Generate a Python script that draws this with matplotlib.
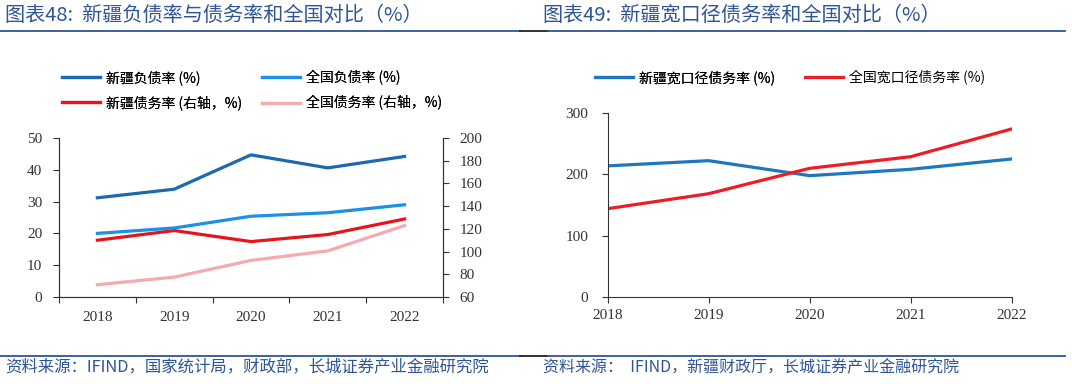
import matplotlib
matplotlib.use('Agg')
import matplotlib.pyplot as plt
from matplotlib.lines import Line2D

plt.rcParams['font.family'] = ['Noto Sans CJK SC', 'DejaVu Sans']

# data
years = ['2018', '2019', '2020', '2021', '2022']
xj_debt_ratio = [31.2, 33.9, 44.7, 40.6, 44.2]       # 新疆负债率, left axis
cn_debt_ratio = [20.0, 21.7, 25.4, 26.5, 29.0]       # 全国负债率, left axis
xj_liab_ratio = [110.0, 118.5, 108.8, 115.0, 128.7]  # 新疆债务率, right axis
cn_liab_ratio = [70.8, 77.5, 92.2, 100.6, 122.9]     # 全国债务率, right axis

xj_broad = [214, 222.5, 198, 208.4, 225.3]   # 新疆宽口径债务率
cn_broad = [144, 168.5, 210, 229, 274.4]     # 全国宽口径债务率

W, H = 1072, 384
fig = plt.figure(figsize=(W / 100, H / 100), dpi=100)


def px(x0, y0, x1, y1):
    # pixel box (top-left origin) -> figure fraction rect
    return [x0 / W, 1 - y1 / H, (x1 - x0) / W, (y1 - y0) / H]


title_c = '#2E5597'
num_font = 'Liberation Serif'
axis_c = '#333333'

# headers and rules
fig.text(5 / W, 1 - 15 / H, '图表48:  新疆负债率与债务率和全国对比（%）',
         fontsize=14.5, color=title_c, va='center', ha='left')
fig.text(543 / W, 1 - 15 / H, '图表49:  新疆宽口径债务率和全国对比（%）',
         fontsize=14.5, color=title_c, va='center', ha='left')
for y in (31, 356):
    fig.add_artist(Line2D([0, 520 / W], [1 - y / H] * 2, color=title_c, lw=1.3))
    fig.add_artist(Line2D([520 / W, 548 / W], [1 - y / H] * 2, color='#222222', lw=1.3))
    fig.add_artist(Line2D([548 / W, 1065 / W], [1 - y / H] * 2, color=title_c, lw=1.3))
fig.text(5 / W, 1 - 368 / H, '资料来源：IFIND，国家统计局，财政部，长城证券产业金融研究院',
         fontsize=11.8, color=title_c, va='center', ha='left')
fig.text(543 / W, 1 - 368 / H, '资料来源：  IFIND，新疆财政厅，长城证券产业金融研究院',
         fontsize=11.5, color=title_c, va='center', ha='left')

# ---- left chart ----
ax1 = fig.add_axes(px(59, 138, 443, 297))
ax2 = ax1.twinx()
x = range(len(years))
l1, = ax1.plot(x, xj_debt_ratio, color='#1B6AAF', lw=2.3)
l2, = ax1.plot(x, cn_debt_ratio, color='#1C8FE6', lw=2.3)
l3, = ax2.plot(x, xj_liab_ratio, color='#E8141C', lw=2.3)
l4, = ax2.plot(x, cn_liab_ratio, color='#F5AAB0', lw=2.3)
ax1.set_xlim(-0.5, 4.5)
ax1.set_ylim(0, 50)
ax1.set_yticks(range(0, 51, 10))
ax2.set_ylim(60, 200)
ax2.set_yticks(range(60, 201, 20))
ax1.set_xticks([i - 0.5 for i in range(6)], minor=False)
ax1.set_xticklabels([])
ax1.set_xticks(list(x), minor=True)
ax1.set_xticklabels(years, minor=True)
ax1.tick_params(axis='x', which='minor', length=0, pad=10)
ax1.tick_params(axis='x', which='major', length=4, direction='out', color=axis_c)
for a in (ax1, ax2):
    a.spines['top'].set_visible(False)
    for s in a.spines.values():
        s.set_color(axis_c)
    a.tick_params(axis='y', length=4, color=axis_c, labelcolor=axis_c, labelsize=11, pad=8)
    for lab in a.get_yticklabels():
        lab.set_fontfamily(num_font)
for lab in ax1.get_xticklabels(minor=True):
    lab.set_fontfamily(num_font)
    lab.set_fontsize(11)
    lab.set_color(axis_c)
ax1.set_zorder(ax2.get_zorder() + 1)
ax1.patch.set_visible(False)

leg_kw = dict(frameon=False, fontsize=10, handlelength=2.75, handletextpad=0.4,
              borderpad=0, borderaxespad=0, labelspacing=0.75, loc='upper left')
lg = fig.legend([l1, l3], ['新疆负债率 (%)', '新疆债务率 (右轴，%)'],
                bbox_to_anchor=(62 / W, 1 - 70 / H), **leg_kw)
lg2 = fig.legend([l2, l4], ['全国负债率 (%)', '全国债务率 (右轴，%)'],
                 bbox_to_anchor=(262 / W, 1 - 70 / H), **leg_kw)
fig.add_artist(lg)

# ---- right chart ----
ax3 = fig.add_axes(px(607.7, 113.3, 1011.7, 296.7))
r1, = ax3.plot(x, xj_broad, color='#1F77BD', lw=2.3)
r2, = ax3.plot(x, cn_broad, color='#EE1C25', lw=2.3)
ax3.set_xlim(0, 4)
ax3.set_ylim(0, 300)
ax3.set_yticks(range(0, 301, 100))
ax3.set_xticks(list(x))
ax3.set_xticklabels(years)
ax3.spines['top'].set_visible(False)
ax3.spines['right'].set_visible(False)
for s in ax3.spines.values():
    s.set_color(axis_c)
ax3.tick_params(length=4, color=axis_c, labelcolor=axis_c, labelsize=11)
ax3.tick_params(axis='y', pad=10)
ax3.tick_params(axis='x', pad=5)
for lab in ax3.get_xticklabels() + ax3.get_yticklabels():
    lab.set_fontfamily(num_font)

lg3 = fig.legend([r1], ['新疆宽口径债务率 (%)'], bbox_to_anchor=(595 / W, 1 - 70 / H), **leg_kw)
lg4 = fig.legend([r2], ['全国宽口径债务率 (%)'], bbox_to_anchor=(805 / W, 1 - 70 / H), **leg_kw)
fig.add_artist(lg3)
fig.add_artist(lg2)

fig.savefig('out.png', dpi=100)
